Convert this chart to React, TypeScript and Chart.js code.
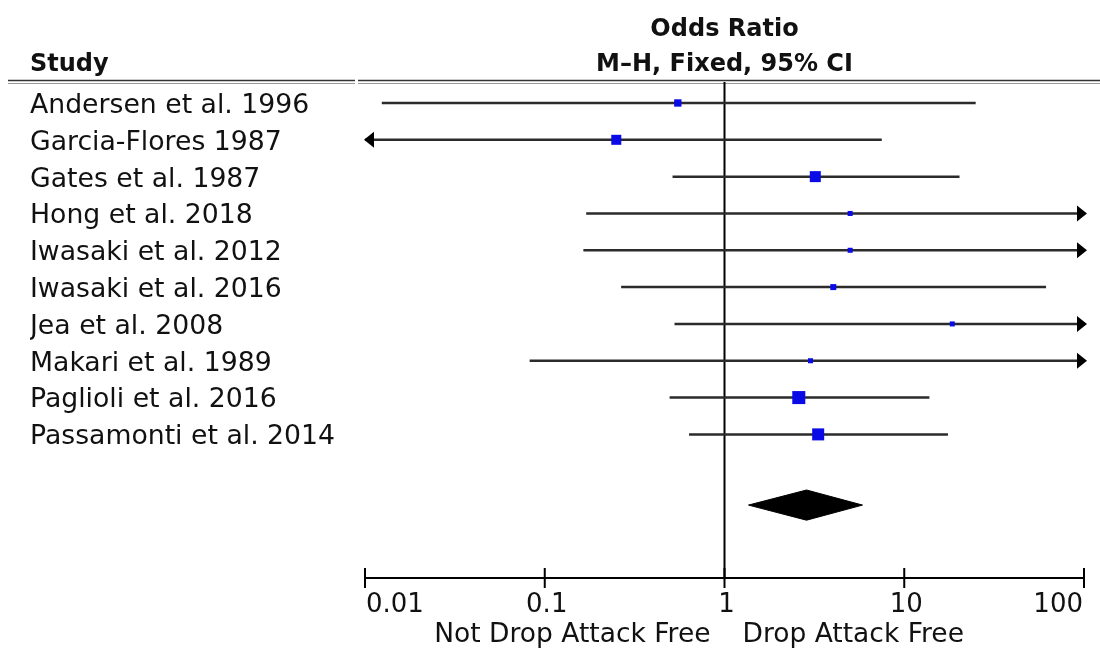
import { useEffect, useRef } from "react";
import { Chart, registerables } from "chart.js";

Chart.register(...registerables);

const studies = [
  "Andersen et al. 1996",
  "Garcia-Flores 1987",
  "Gates et al. 1987",
  "Hong et al. 2018",
  "Iwasaki et al. 2012",
  "Iwasaki et al. 2016",
  "Jea et al. 2008",
  "Makari et al. 1989",
  "Paglioli et al. 2016",
  "Passamonti et al. 2014",
];
const oddsRatio = [0.55, 0.25, 3.2, 5.0, 5.0, 4.03, 18.5, 3.01, 2.59, 3.32];
const ciLower = [0.0124, 0.004, 0.514, 0.17, 0.164, 0.266, 0.527, 0.0824, 0.495, 0.635];
const ciUpper = [24.97, 7.5, 20.3, 150, 150, 61.5, 150, 150, 13.8, 17.5];
const weights = [7.5, 13.9, 16.8, 3.5, 3.5, 5.0, 3.5, 3.5, 23.5, 20.0];

const pooledOR = 2.86;
const pooledLower = 1.36;
const pooledUpper = 5.86;

const axisTicks = [0.01, 0.1, 1, 10, 100];
const axisTickLabels = ["0.01", "0.1", "1", "10", "100"];
const headerTitle = ["Odds Ratio", "M\u2013H, Fixed, 95% CI"];
const studyHeader = "Study";
const favoursLeft = "Not Drop Attack Free";
const favoursRight = "Drop Attack Free";

const X_MIN = 0.01;
const X_MAX = 100;
const pooledRow = studies.length + 0.92;

const FONT = "'DejaVu Sans', sans-serif";

export default function App() {
  const ref = useRef<HTMLCanvasElement | null>(null);

  useEffect(() => {
    const canvas = ref.current;
    if (!canvas) return;

    const clamp = (v: number) => Math.min(X_MAX, Math.max(X_MIN, v));

    const ciDatasets = studies.map((_, i) => ({
      type: "scatter" as const,
      label: "ci" + i,
      data: [
        { x: clamp(ciLower[i]), y: i },
        { x: clamp(ciUpper[i]), y: i },
      ],
      showLine: true,
      borderColor: "#2b2b2b",
      borderWidth: 2.5,
      pointRadius: 0,
      order: 2,
    }));

    const decor = {
      id: "forestDecor",
      beforeDatasetsDraw(chart: any) {
        const { ctx, chartArea, scales } = chart;
        const xs = scales.x;
        ctx.save();
        // header rule
        ctx.strokeStyle = "#333";
        ctx.lineWidth = 1.5;
        ctx.beginPath();
        ctx.moveTo(8, 80.5);
        ctx.lineTo(355, 80.5);
        ctx.moveTo(358, 80.5);
        ctx.lineTo(1100, 80.5);
        ctx.stroke();
        ctx.strokeStyle = "#999";
        ctx.lineWidth = 1;
        ctx.beginPath();
        ctx.moveTo(8, 83.5);
        ctx.lineTo(355, 83.5);
        ctx.moveTo(358, 83.5);
        ctx.lineTo(1100, 83.5);
        ctx.stroke();
        // line of no effect
        const x1 = xs.getPixelForValue(1);
        ctx.strokeStyle = "#000";
        ctx.lineWidth = 2;
        ctx.beginPath();
        ctx.moveTo(x1, chartArea.top);
        ctx.lineTo(x1, chartArea.bottom);
        ctx.stroke();
        // axis
        ctx.beginPath();
        ctx.moveTo(xs.getPixelForValue(X_MIN), chartArea.bottom);
        ctx.lineTo(xs.getPixelForValue(X_MAX), chartArea.bottom);
        axisTicks.forEach((t) => {
          const px = xs.getPixelForValue(t);
          ctx.moveTo(px, chartArea.bottom - 10);
          ctx.lineTo(px, chartArea.bottom + 10);
        });
        ctx.stroke();
        ctx.restore();
      },
      afterDatasetsDraw(chart: any) {
        const { ctx, scales } = chart;
        const xs = scales.x;
        const ys = scales.y;
        ctx.save();
        ctx.fillStyle = "#000";
        studies.forEach((_, i) => {
          const py = ys.getPixelForValue(i);
          if (ciUpper[i] > X_MAX) {
            const px = xs.getPixelForValue(X_MAX);
            ctx.beginPath();
            ctx.moveTo(px + 3, py);
            ctx.lineTo(px - 7, py - 8);
            ctx.lineTo(px - 7, py + 8);
            ctx.closePath();
            ctx.fill();
          }
          if (ciLower[i] < X_MIN) {
            const px = xs.getPixelForValue(X_MIN);
            ctx.beginPath();
            ctx.moveTo(px - 1, py);
            ctx.lineTo(px + 9, py - 8);
            ctx.lineTo(px + 9, py + 8);
            ctx.closePath();
            ctx.fill();
          }
        });
        ctx.restore();
      },
      afterDraw(chart: any) {
        const { ctx, scales } = chart;
        const xs = scales.x;
        const x1 = xs.getPixelForValue(1);
        ctx.save();
        ctx.fillStyle = "#111";
        ctx.textBaseline = "middle";
        ctx.font = `bold 24px ${FONT}`;
        ctx.textAlign = "center";
        ctx.fillText(headerTitle[0], x1, 30);
        ctx.fillText(headerTitle[1], x1, 65);
        ctx.textAlign = "left";
        ctx.fillText(studyHeader, 30, 65);
        ctx.font = `26px ${FONT}`;
        axisTicks.forEach((t, i) => {
          const px = xs.getPixelForValue(t);
          if (i === 0) {
            ctx.textAlign = "left";
            ctx.fillText(axisTickLabels[i], px + 1, 605);
          } else if (i === axisTicks.length - 1) {
            ctx.textAlign = "right";
            ctx.fillText(axisTickLabels[i], px - 1, 605);
          } else {
            ctx.textAlign = "center";
            ctx.fillText(axisTickLabels[i], px + 2, 605);
          }
        });
        ctx.font = `26.5px ${FONT}`;
        ctx.textAlign = "right";
        ctx.fillText(favoursLeft, x1 - 14, 635);
        ctx.textAlign = "left";
        ctx.fillText(favoursRight, x1 + 18, 635);
        ctx.restore();
      },
    };

    const chart = new Chart(canvas, {
      type: "scatter",
      data: {
        datasets: [
          {
            type: "scatter",
            label: "Odds ratio",
            data: studies.map((_, i) => ({ x: oddsRatio[i], y: i })),
            pointStyle: "rect",
            pointRadius: weights.map((w) => Math.sqrt(w) * 1.9),
            pointHoverRadius: weights.map((w) => Math.sqrt(w) * 1.9),
            backgroundColor: "#0a0ae6",
            borderColor: "#0a0ae6",
            borderWidth: 0,
            order: 0,
          },
          {
            type: "scatter",
            label: "Pooled",
            data: [
              { x: pooledLower, y: pooledRow },
              { x: pooledOR, y: pooledRow - 0.41 },
              { x: pooledUpper, y: pooledRow },
              { x: pooledOR, y: pooledRow + 0.41 },
              { x: pooledLower, y: pooledRow },
            ],
            showLine: true,
            fill: "shape",
            backgroundColor: "#000",
            borderColor: "#000",
            borderWidth: 1,
            pointRadius: 0,
            order: 1,
          },
          ...ciDatasets,
        ] as any,
      },
      options: {
        animation: false,
        responsive: false,
        maintainAspectRatio: false,
        events: [],
        layout: { padding: { left: 30, right: 16, top: 82, bottom: 0 } },
        plugins: {
          legend: { display: false },
          tooltip: { enabled: false },
          title: { display: false },
        },
        scales: {
          x: {
            type: "logarithmic",
            min: X_MIN,
            max: X_MAX,
            position: "bottom",
            grid: { display: false },
            border: { display: false },
            ticks: { display: false },
            afterBuildTicks: (scale: any) => {
              scale.ticks = axisTicks.map((v) => ({ value: v }));
            },
            afterFit: (scale: any) => {
              scale.height = 70;
            },
          },
          y: {
            type: "linear",
            reverse: true,
            min: -0.57,
            max: 12.9,
            position: "left",
            grid: { display: false },
            border: { display: false },
            afterBuildTicks: (scale: any) => {
              scale.ticks = studies.map((_, i) => ({ value: i }));
            },
            afterFit: (scale: any) => {
              scale.width = 335;
            },
            ticks: {
              autoSkip: false,
              crossAlign: "far",
              padding: 0,
              labelOffset: 3,
              color: "#111",
              font: { family: FONT, size: 26.7 },
              callback: (v: any) => studies[Number(v)] ?? "",
            },
          },
        },
      },
      plugins: [decor],
    });

    return () => chart.destroy();
  }, []);

  return (
    <div style={{ position: "absolute", left: 0, top: 0, width: 1100, height: 648, background: "#fff" }}>
      <canvas ref={ref} width={1100} height={648} style={{ width: 1100, height: 648, display: "block" }} />
    </div>
  );
}
